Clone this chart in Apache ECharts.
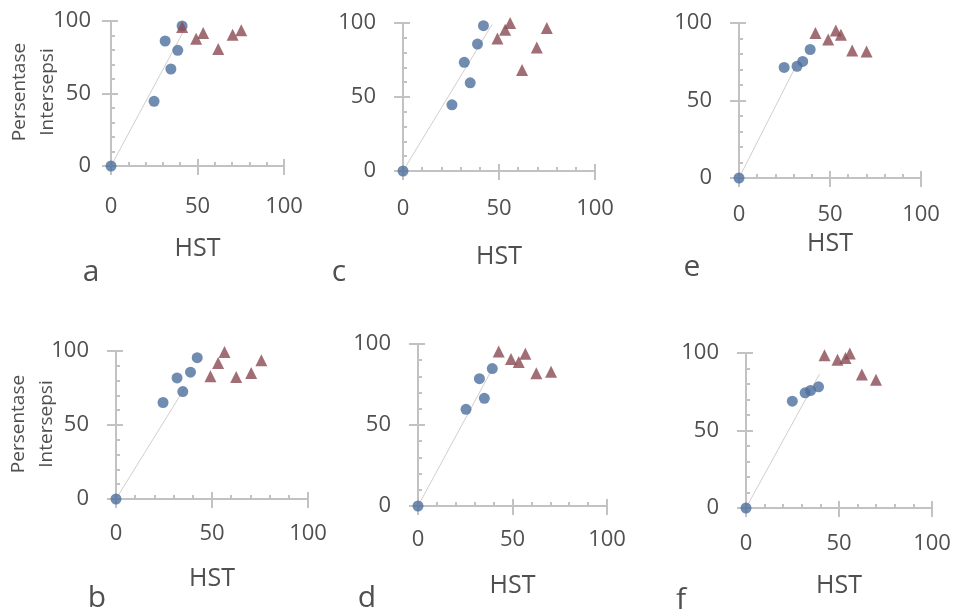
<!DOCTYPE html>
<html>
<head>
<meta charset="utf-8">
<title>HST - Persentase Intersepsi</title>
<style>
body{margin:0;background:#fff;}
#main{width:954px;height:616px;}
</style>
</head>
<body>
<div id="main"></div>
<script src="https://cdn.jsdelivr.net/npm/echarts@6/dist/echarts.min.js"></script>
<script>
// panel order: top row a c e, bottom row b d f
var panels = ['a', 'c', 'e', 'b', 'd', 'f'];
var xTicks = [0, 50, 100];
var yTicks = [0, 50, 100];

// blue circles (HST, persentase intersepsi)
var blueX_a = [0, 24.9, 31.3, 34.6, 38.6, 41.1];
var blueY_a = [0, 44.6, 86.2, 66.9, 79.8, 96.6];
var blueX_c = [0, 25.5, 31.9, 35.0, 38.8, 41.9];
var blueY_c = [0, 44.7, 73.4, 59.6, 85.8, 98.2];
var blueX_e = [0, 24.8, 31.9, 35.0, 39.1];
var blueY_e = [0, 71.3, 72.1, 75.2, 82.9];
var blueX_b = [0, 24.5, 31.8, 34.8, 38.8, 42.3];
var blueY_b = [0, 65.2, 81.8, 72.6, 85.7, 95.5];
var blueX_d = [0, 25.4, 32.5, 35.1, 39.3];
var blueY_d = [0, 59.7, 78.6, 66.5, 84.8];
var blueX_f = [0, 24.9, 31.8, 34.7, 39.0];
var blueY_f = [0, 68.9, 74.3, 75.8, 78.2];

// red triangles
var triX_a = [41.1, 49.2, 53.3, 62.0, 70.3, 75.3];
var triY_a = [95.9, 87.8, 91.7, 80.7, 90.6, 93.6];
var triX_c = [49.2, 53.2, 55.8, 62.0, 69.7, 74.9];
var triY_c = [89.6, 95.5, 100, 68.2, 83.5, 96.6];
var triX_e = [42.0, 49.0, 53.2, 56.0, 62.2, 70.1];
var triY_e = [93.5, 89.4, 95.2, 92.4, 82.3, 81.6];
var triX_b = [49.2, 53.2, 56.5, 62.6, 70.4, 75.7];
var triY_b = [83.0, 91.9, 99.3, 82.5, 85.2, 93.7];
var triX_d = [42.7, 49.2, 53.3, 56.8, 62.6, 70.4];
var triY_d = [95.3, 90.7, 88.9, 94.0, 81.9, 82.9];
var triX_f = [42.2, 49.2, 53.5, 55.8, 62.3, 69.9];
var triY_f = [98.5, 95.7, 96.8, 99.6, 86.2, 82.7];

// trend line, from origin to end
var trendStart = [0, 0];
var trendEnd_a = [41.5, 92];
var trendEnd_c = [46.4, 99];
var trendEnd_e = [31.6, 73];
var trendEnd_b = [36.2, 75.8];
var trendEnd_d = [39, 84];
var trendEnd_f = [39.5, 86.4];

var data = {
  a: {bx: blueX_a, by: blueY_a, tx: triX_a, ty: triY_a, tr: trendEnd_a},
  c: {bx: blueX_c, by: blueY_c, tx: triX_c, ty: triY_c, tr: trendEnd_c},
  e: {bx: blueX_e, by: blueY_e, tx: triX_e, ty: triY_e, tr: trendEnd_e},
  b: {bx: blueX_b, by: blueY_b, tx: triX_b, ty: triY_b, tr: trendEnd_b},
  d: {bx: blueX_d, by: blueY_d, tx: triX_d, ty: triY_d, tr: trendEnd_d},
  f: {bx: blueX_f, by: blueY_f, tx: triX_f, ty: triY_f, tr: trendEnd_f}
};

// layout: [left, top, width, height, xLabelMargin, yLabelMargin, nameGap]
var layout = {
  a: [111, 21, 173, 145, 30, 20, 70],
  c: [403, 23, 192, 148, 27, 27, 73],
  e: [739, 23, 182, 155, 26, 27, 53],
  b: [116, 351, 192, 148, 24, 27, 67],
  d: [418, 344, 189, 162, 23, 27, 67],
  f: [746, 353, 186, 155, 25, 27, 65]
};
// letter positions [x, y]
var letterPos = {a: [91, 272], c: [339, 272], e: [692, 267], b: [97, 598], d: [367, 598], f: [681, 600]};

var FONT = '"Open Sans", "Noto Sans", sans-serif';
var TXT = '#505050';
var AX = '#c2c2c2';

function zip(xs, ys) {
  return xs.map(function (x, i) { return [x, ys[i]]; });
}

var grid = [], xAxis = [], yAxis = [], series = [], graphic = [];

panels.forEach(function (p, k) {
  var L = layout[p], d = data[p];
  grid.push({left: L[0], top: L[1], width: L[2], height: L[3]});

  // main axes: line, labels, outer part of major ticks
  xAxis.push({
    type: 'value', gridIndex: k, position: 'bottom', min: xTicks[0], max: xTicks[2], interval: xTicks[1] - xTicks[0],
    axisLine: {lineStyle: {color: AX, width: 2}},
    axisTick: {show: true, length: 9, lineStyle: {color: AX, width: 2}},
    axisLabel: {margin: L[4], fontSize: 22, color: TXT, fontFamily: FONT},
    splitLine: {show: false},
    name: 'HST', nameLocation: 'middle', nameGap: L[6],
    nameTextStyle: {fontSize: 25, color: TXT, fontFamily: FONT}
  });
  // overlay: inner major + minor ticks
  xAxis.push({
    type: 'value', gridIndex: k, position: 'bottom', min: xTicks[0], max: xTicks[2], interval: xTicks[1] - xTicks[0],
    axisLine: {show: false},
    axisTick: {show: true, inside: true, length: 7, lineStyle: {color: AX, width: 2}},
    minorTick: {show: true, splitNumber: 5, length: 4, lineStyle: {color: AX, width: 2}},
    axisLabel: {show: false},
    splitLine: {show: false}
  });
  yAxis.push({
    type: 'value', gridIndex: k, position: 'left', min: yTicks[0], max: yTicks[2], interval: yTicks[1] - yTicks[0],
    axisLine: {lineStyle: {color: AX, width: 2}},
    axisTick: {show: true, length: 9, lineStyle: {color: AX, width: 2}},
    axisLabel: {margin: L[5], fontSize: 22, color: TXT, fontFamily: FONT},
    splitLine: {show: false}
  });
  yAxis.push({
    type: 'value', gridIndex: k, position: 'left', min: yTicks[0], max: yTicks[2], interval: yTicks[1] - yTicks[0],
    axisLine: {show: false},
    axisTick: {show: true, inside: true, length: 7, lineStyle: {color: AX, width: 2}},
    minorTick: {show: true, splitNumber: 5, length: 4, lineStyle: {color: AX, width: 2}},
    axisLabel: {show: false},
    splitLine: {show: false}
  });

  series.push({
    type: 'line', xAxisIndex: 2 * k, yAxisIndex: 2 * k, data: [trendStart, d.tr],
    symbol: 'none', silent: true, z: 1,
    lineStyle: {color: '#d6cccc', width: 1}
  });
  series.push({
    type: 'scatter', xAxisIndex: 2 * k, yAxisIndex: 2 * k, data: zip(d.bx, d.by),
    symbol: 'circle', symbolSize: 11, z: 3,
    itemStyle: {color: '#4e6f9d'}
  });
  series.push({
    type: 'scatter', xAxisIndex: 2 * k, yAxisIndex: 2 * k, data: zip(d.tx, d.ty),
    symbol: 'triangle', symbolSize: 12, z: 4,
    itemStyle: {color: '#8b4a53'}
  });

  graphic.push({
    type: 'text', x: letterPos[p][0], y: letterPos[p][1],
    style: {text: p, fontSize: 30, fill: TXT, fontFamily: FONT, align: 'center', verticalAlign: 'middle'}
  });
});

// y axis title on the left panels
[[34, 92], [33, 424]].forEach(function (pos) {
  graphic.push({
    type: 'text', x: pos[0], y: pos[1], rotation: Math.PI / 2,
    style: {text: 'Persentase\nIntersepsi', fontSize: 19, lineHeight: 28, fill: TXT, fontFamily: FONT, align: 'center', verticalAlign: 'middle'}
  });
});

var myChart = echarts.init(document.getElementById('main'));
myChart.setOption({
  animation: false,
  backgroundColor: '#fff',
  grid: grid,
  xAxis: xAxis,
  yAxis: yAxis,
  series: series,
  graphic: graphic
});
</script>
</body>
</html>
